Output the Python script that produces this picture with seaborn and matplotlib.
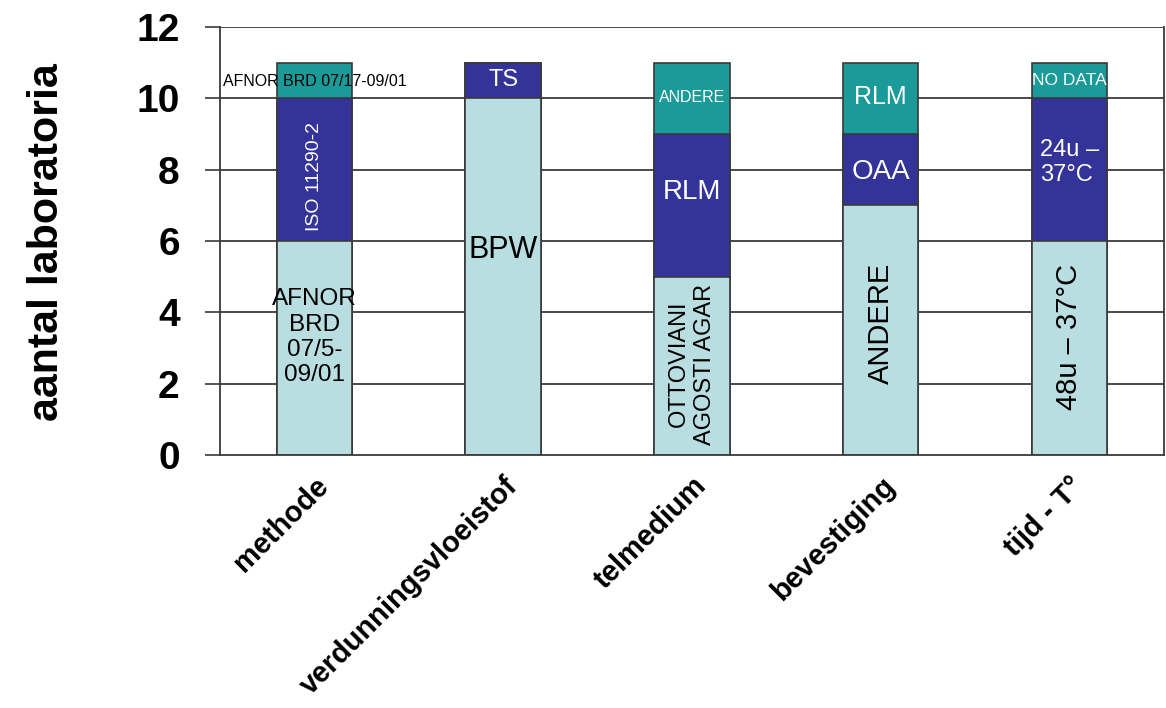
import matplotlib
matplotlib.use("Agg")
import matplotlib.pyplot as plt
import seaborn as sns
import pandas as pd
import numpy as np

sns.set_theme(style="white")
plt.rcParams["font.family"] = ["Liberation Sans", "DejaVu Sans"]
plt.rcParams["text.color"] = "black"
plt.rcParams["axes.labelcolor"] = "black"
plt.rcParams["xtick.color"] = "black"
plt.rcParams["ytick.color"] = "black"

# Survey categories and number of laboratories per answer (bottom, middle, top)
categories = ["methode", "verdunningsvloeistof", "telmedium", "bevestiging", "tijd - T°"]
bottom_vals = [6, 10, 5, 7, 6]
middle_vals = [4, 1, 4, 2, 4]
top_vals = [1, 0, 2, 2, 1]

bottom_labels = ["AFNOR\nBRD\n07/5-\n09/01", "BPW", "OTTOVIANI\nAGOSTI AGAR", "ANDERE", "48u – 37°C"]
middle_labels = ["ISO 11290-2", "TS", "RLM", "OAA", "24u –\n37°C"]
top_labels = ["AFNOR BRD 07/17-09/01", "", "ANDERE", "RLM", "NO DATA"]

yticks = [0, 2, 4, 6, 8, 10, 12]

c_bottom = "#B9DEE1"
c_middle = "#333399"
c_top = "#1A9A98"
edge = "#3a3a3a"

df = pd.DataFrame({
    "categorie": categories,
    "onder": bottom_vals,
    "midden": middle_vals,
    "boven": top_vals,
})
df["cum_midden"] = df["onder"] + df["midden"]
df["cum_boven"] = df["cum_midden"] + df["boven"]

fig = plt.figure(figsize=(11.66, 7.08), dpi=100)
ax = fig.add_axes([0.1887, 0.3573, 0.8093, 0.6046])

# gridlines behind the bars
for y in yticks[1:]:
    ax.axhline(y, color="#3a3a3a", lw=1.3, zorder=0)

# stacked bars: draw cumulative totals from the top down
for col, color in [("cum_boven", c_top), ("cum_midden", c_middle), ("onder", c_bottom)]:
    sns.barplot(data=df, x="categorie", y=col, color=color, width=0.4,
                edgecolor=edge, linewidth=1.2, saturation=1, ax=ax, zorder=2)

ax.set_xlim(-0.5, 4.5)
ax.set_ylim(0, 12)
ax.set_yticks(yticks)
ax.set_yticklabels([str(v) for v in yticks], fontsize=28, fontweight="bold")
ax.set_ylabel("aantal laboratoria", fontsize=31, fontweight="bold")
ax.yaxis.set_label_coords(-0.162, 0.498)
ax.set_xlabel("")

ax.set_xticks(range(len(categories)))
ax.set_xticklabels(categories, rotation=45, ha="right", rotation_mode="anchor",
                   fontsize=21, fontweight="bold")
ax.tick_params(axis="x", which="major", length=0, pad=12)
ax.set_xticks(np.arange(-0.5, 4.6, 1.0), minor=True)
ax.tick_params(axis="x", which="minor", length=9, width=1.2, color=edge, direction="out")
ax.tick_params(axis="y", length=11, width=1.2, color=edge, direction="out", left=True, pad=18)

for s in ["left", "bottom", "right"]:
    ax.spines[s].set_visible(True)
    ax.spines[s].set_color(edge)
    ax.spines[s].set_linewidth(1.3)
ax.spines["top"].set_visible(False)

# segment labels (x, y, text, size, colour, rotation, alignment)
seg_text = [
    (0, 3.3, bottom_labels[0], 17.5, "black", 0, "center"),
    (0, 7.8, middle_labels[0], 14, "white", 90, "center"),
    (0, 10.48, top_labels[0], 11.5, "black", 0, "center"),
    (1, 5.74, bottom_labels[1], 22, "black", 0, "center"),
    (1, 10.5, middle_labels[1], 17, "white", 0, "center"),
    (2, 2.55, bottom_labels[2], 17, "black", 90, "center"),
    (2, 7.37, middle_labels[2], 20, "white", 0, "center"),
    (2, 10.03, top_labels[2], 11.5, "white", 0, "center"),
    (3, 3.7, bottom_labels[3], 21, "black", 90, "center"),
    (3, 7.93, middle_labels[3], 20, "white", 0, "center"),
    (3, 10.03, top_labels[3], 18, "white", 0, "center"),
    (4, 3.3, bottom_labels[4], 21, "black", 90, "center"),
    (4, 8.2, middle_labels[4], 17, "white", 0, "left"),
    (4, 10.5, top_labels[4], 12.5, "white", 0, "center"),
]
for x, y, t, fs, col, rot, mal in seg_text:
    ax.text(x, y, t, ha="center", va="center", fontsize=fs, color=col,
            rotation=rot, linespacing=1.2, multialignment=mal, zorder=5)

fig.savefig("out.png", dpi=100)
